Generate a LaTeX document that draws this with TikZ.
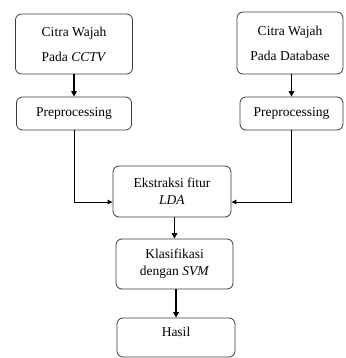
\documentclass[tikz,border=0pt]{standalone}
\usepackage{fontspec}
\setmainfont{LiberationSerif}[Extension=.ttf,UprightFont=*-Regular,ItalicFont=*-Italic,BoldFont=*-Bold]
\usetikzlibrary{arrows.meta}
\definecolor{boxline}{RGB}{60,60,60}

\begin{document}
\begin{tikzpicture}[yscale=-1
,box/.style={draw=boxline,line width=0.8pt,rounded corners=6pt,align=center,font=\rmfamily\fontsize{13.5}{17}\selectfont,inner sep=2pt}
,flow/.style={color=black,line width=1.6pt,-{Triangle[length=5.5pt,width=5.5pt]}}
,merge/.style={color=black,line width=1pt,-{Triangle[length=5pt,width=4.5pt]}}
]
\useasboundingbox (0pt,0pt) rectangle (345pt,358pt);
\node (cctv) at (74pt,44pt)[box,minimum width=117pt,minimum height=60pt,font=\rmfamily\fontsize{13.5}{25}\selectfont]{Citra Wajah\\Pada \textit{CCTV}};
\node (db) at (290pt,43pt)[box,minimum width=106pt,minimum height=62pt,font=\rmfamily\fontsize{13.5}{25}\selectfont]{Citra Wajah\\Pada Database};
\node (pre1) at (74pt,113.5pt)[box,minimum width=115pt,minimum height=33pt]{Preprocessing};
\node (pre2) at (291.5pt,113.5pt)[box,minimum width=103pt,minimum height=33pt]{Preprocessing};
\node (lda) at (172pt,191.5pt)[box,minimum width=118pt,minimum height=51pt]{Ekstraksi fitur\\\textit{LDA}};
\node (svm) at (174.5pt,264pt)[box,minimum width=117pt,minimum height=50pt]{Klasifikasi\\dengan \textit{SVM}};
\node (hasil) at (176pt,337.5pt)[box,minimum width=118pt,text height=15pt,text depth=18pt,inner ysep=3pt]{Hasil};
\draw[flow] (cctv) -- (pre1);
\draw[flow] (db.south -| pre2) -- (pre2);
\draw[merge] (pre1.south) |- ([yshift=10.5pt]lda.west);
\draw[merge] (pre2.south) |- ([yshift=10.5pt]lda.east);
\draw[flow] (lda.south -| svm) -- (svm.north);
\draw[flow] (svm.south -| hasil) -- (hasil.north);
\end{tikzpicture}
\end{document}
